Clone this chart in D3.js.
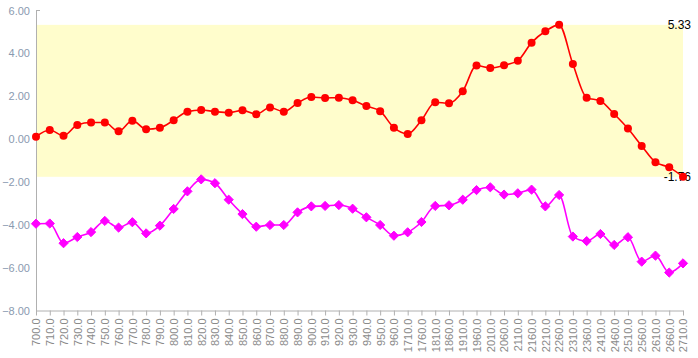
<!DOCTYPE html>
<html>
<head>
<meta charset="utf-8">
<script src="https://cdn.jsdelivr.net/npm/d3@7/dist/d3.min.js"></script>
<style>
  html, body { margin: 0; padding: 0; background: #fff; }
  svg { display: block; }
  text { font-family: "Liberation Sans", Arial, sans-serif; }
</style>
</head>
<body>
<svg id="chart" width="698" height="358"></svg>
<script>
const categories = ["700.0","710.0","720.0","730.0","740.0","750.0","760.0","770.0","780.0","790.0",
  "800.0","810.0","820.0","830.0","840.0","850.0","860.0","870.0","880.0","890.0",
  "900.0","910.0","920.0","930.0","940.0","950.0","960.0",
  "1710.0","1760.0","1810.0","1860.0","1910.0","1960.0","2010.0","2060.0","2110.0","2160.0",
  "2210.0","2260.0","2310.0","2360.0","2410.0","2460.0","2510.0","2560.0","2610.0","2660.0","2710.0"];

const redSeries = [0.11,0.42,0.16,0.66,0.77,0.77,0.36,0.86,0.46,0.53,
  0.88,1.28,1.36,1.28,1.23,1.34,1.16,1.47,1.28,1.68,
  1.96,1.92,1.93,1.81,1.54,1.30,0.53,
  0.24,0.88,1.72,1.67,2.23,3.43,3.32,3.44,3.66,4.50,
  5.03,5.33,3.50,1.93,1.78,1.17,0.49,-0.32,-1.08,-1.32,-1.76];

const magentaSeries = [-3.95,-3.94,-4.86,-4.57,-4.34,-3.82,-4.13,-3.88,-4.40,-4.04,
  -3.26,-2.44,-1.88,-2.06,-2.83,-3.50,-4.09,-4.01,-4.01,-3.42,
  -3.14,-3.12,-3.08,-3.25,-3.65,-4.01,-4.51,
  -4.35,-3.87,-3.12,-3.09,-2.83,-2.38,-2.25,-2.59,-2.53,-2.36,
  -3.14,-2.61,-4.55,-4.76,-4.43,-4.94,-4.58,-5.72,-5.44,-6.23,-5.80];

const yTicks = [6, 4, 2, 0, -2, -4, -6, -8];

const svg = d3.select("#chart");
const mLeft = 36, mRight = 683, mTop = 10.5, mBottom = 310.5;

const x = d3.scalePoint().domain(categories).range([mLeft, mRight]).padding(0);
const y = d3.scaleLinear().domain([-8, 6]).range([mBottom, mTop]);

const redMax = d3.max(redSeries), redMin = d3.min(redSeries);

// band between min and max of red series
svg.append("rect")
  .attr("x", mLeft)
  .attr("y", y(redMax))
  .attr("width", mRight - mLeft)
  .attr("height", y(redMin) - y(redMax))
  .attr("fill", "#fffdcc");

// Y axis
const yAxis = d3.axisLeft(y).tickValues(yTicks).tickSize(0).tickPadding(6)
  .tickFormat(d3.format(".2f"));
const gy = svg.append("g").attr("transform", `translate(${mLeft},0)`).call(yAxis);
gy.select(".domain").attr("stroke", "#b0b0b0");
gy.selectAll("text").attr("fill", "#8a9ab0").attr("font-size", 11)
  .attr("font-family", "Liberation Sans, Arial, sans-serif");
svg.append("line").attr("x1", mLeft).attr("x2", mLeft + 4)
  .attr("y1", y(6)).attr("y2", y(6)).attr("stroke", "#b0b0b0");

// X axis
const xAxis = d3.axisBottom(x).tickSize(5).tickSizeOuter(0).tickFormat(d => d);
const gx = svg.append("g").attr("transform", `translate(0,${mBottom})`).call(xAxis);
gx.select(".domain").attr("stroke", "#b0b0b0");
gx.selectAll(".tick line").attr("stroke", "#b0b0b0");
gx.selectAll("text")
  .attr("fill", "#8a8a8a").attr("font-size", 11)
  .attr("font-family", "Liberation Sans, Arial, sans-serif")
  .attr("text-anchor", "end")
  .attr("transform", "rotate(-90)")
  .attr("x", -8).attr("y", 0).attr("dy", "0.35em");

const line = (data) => d3.line()
  .x((d, i) => x(categories[i]))
  .y(d => y(d))
  .curve(d3.curveMonotoneX)(data);

// magenta series
svg.append("path").attr("d", line(magentaSeries))
  .attr("fill", "none").attr("stroke", "#ff00ff").attr("stroke-width", 1.6);
svg.selectAll(".dia").data(magentaSeries).enter().append("path")
  .attr("class", "dia")
  .attr("transform", (d, i) => `translate(${x(categories[i])},${y(d)})`)
  .attr("d", "M0,-4.6L4.6,0L0,4.6L-4.6,0Z")
  .attr("fill", "#ff00ff").attr("stroke", "#ff00ff").attr("stroke-width", 1).attr("stroke-linejoin", "round");

// red series
svg.append("path").attr("d", line(redSeries))
  .attr("fill", "none").attr("stroke", "#ff0000").attr("stroke-width", 1.6);

// value labels for max/min
svg.append("text").attr("x", 691).attr("y", y(redMax)).attr("dy", "0.35em")
  .attr("text-anchor", "end").attr("font-size", 12).attr("fill", "#000")
  .text(redMax.toFixed(2));
svg.append("text").attr("x", 691).attr("y", y(redMin)).attr("dy", "0.35em")
  .attr("text-anchor", "end").attr("font-size", 12).attr("fill", "#000")
  .text(redMin.toFixed(2));

svg.selectAll(".dot").data(redSeries).enter().append("circle")
  .attr("class", "dot")
  .attr("cx", (d, i) => x(categories[i]))
  .attr("cy", d => y(d))
  .attr("r", 4)
  .attr("fill", "#ff0000");
</script>
</body>
</html>
